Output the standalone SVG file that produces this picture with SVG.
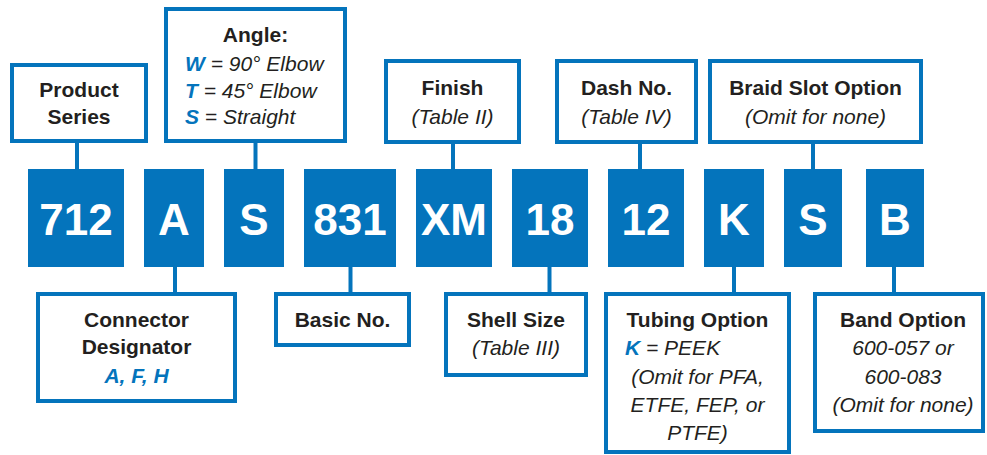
<svg xmlns="http://www.w3.org/2000/svg" width="987" height="455" viewBox="0 0 987 455">
<style>
.box{fill:#fff;stroke:#0474BC;stroke-width:4}
.blk{fill:#0474BC}
.big{font-family:"Liberation Sans",Arial,sans-serif;font-weight:bold;font-size:44px;fill:#fff;text-anchor:middle}
.t{font-family:"Liberation Sans",Arial,sans-serif;font-size:21px;fill:#231F20}
.b{font-weight:bold}
.i{font-style:italic}
.c{text-anchor:middle}
.bl{fill:#0474BC;font-weight:bold;font-style:italic}
.ln{stroke:#0474BC;stroke-width:4;fill:none}
</style>
<rect width="987" height="455" fill="#fff"/>
<g id="connectors">
<line class="ln" x1="77" y1="142" x2="77" y2="170"/>
<line class="ln" x1="255.5" y1="142" x2="255.5" y2="170"/>
<line class="ln" x1="453" y1="142" x2="453" y2="170"/>
<line class="ln" x1="640" y1="142" x2="640" y2="170"/>
<line class="ln" x1="813" y1="142" x2="813" y2="170"/>
<line class="ln" x1="175" y1="266" x2="175" y2="293"/>
<line class="ln" x1="350.5" y1="266" x2="350.5" y2="293"/>
<line class="ln" x1="549.5" y1="266" x2="549.5" y2="293"/>
<line class="ln" x1="734" y1="266" x2="734" y2="293"/>
<line class="ln" x1="894" y1="266" x2="894" y2="293"/>
</g>
<g id="product-series">
<rect class="box" x="12" y="65" width="134" height="76"/>
<text class="t b c" x="79" y="97">Product</text>
<text class="t b c" x="79" y="123.5">Series</text>
</g>
<g id="angle">
<rect class="box" x="166" y="9" width="179" height="132"/>
<text class="t b c" x="255.5" y="41.5">Angle:</text>
<text class="t i" x="185" y="71"><tspan class="bl">W</tspan> = 90° Elbow</text>
<text class="t i" x="185" y="97.5"><tspan class="bl">T</tspan> = 45° Elbow</text>
<text class="t i" x="185" y="123.5"><tspan class="bl">S</tspan> = Straight</text>
</g>
<g id="finish">
<rect class="box" x="386" y="61" width="133" height="81"/>
<text class="t b c" x="452.5" y="95">Finish</text>
<text class="t i c" x="452.5" y="124">(Table II)</text>
</g>
<g id="dash-no">
<rect class="box" x="557" y="61" width="139" height="81"/>
<text class="t b c" x="626.5" y="95">Dash No.</text>
<text class="t i c" x="626.5" y="124">(Table IV)</text>
</g>
<g id="braid-slot">
<rect class="box" x="710" y="61" width="211" height="81"/>
<text class="t b c" x="815.5" y="95">Braid Slot Option</text>
<text class="t i c" x="815.5" y="124">(Omit for none)</text>
</g>
<g id="code-712"><rect class="blk" x="28" y="169" width="96" height="98"/><text class="big" x="76" y="235">712</text></g>
<g id="code-A"><rect class="blk" x="144" y="169" width="60" height="98"/><text class="big" x="174" y="235">A</text></g>
<g id="code-S1"><rect class="blk" x="224" y="169" width="60" height="98"/><text class="big" x="254" y="235">S</text></g>
<g id="code-831"><rect class="blk" x="304" y="169" width="92" height="98"/><text class="big" x="350" y="235">831</text></g>
<g id="code-XM"><rect class="blk" x="416" y="169" width="76" height="98"/><text class="big" x="454" y="235">XM</text></g>
<g id="code-18"><rect class="blk" x="512" y="169" width="76" height="98"/><text class="big" x="550" y="235">18</text></g>
<g id="code-12"><rect class="blk" x="608" y="169" width="76" height="98"/><text class="big" x="646" y="235">12</text></g>
<g id="code-K"><rect class="blk" x="704" y="169" width="60" height="98"/><text class="big" x="734" y="235">K</text></g>
<g id="code-S2"><rect class="blk" x="784" y="169" width="58" height="98"/><text class="big" x="813" y="235">S</text></g>
<g id="code-B"><rect class="blk" x="866" y="169" width="58" height="98"/><text class="big" x="895" y="235">B</text></g>
<g id="connector-designator">
<rect class="box" x="38" y="294" width="197" height="107"/>
<text class="t b c" x="136.5" y="327">Connector</text>
<text class="t b c" x="136.5" y="354">Designator</text>
<text class="t bl c" x="136.5" y="383">A, F, H</text>
</g>
<g id="basic-no">
<rect class="box" x="276" y="294" width="133" height="51"/>
<text class="t b c" x="342.5" y="327">Basic No.</text>
</g>
<g id="shell-size">
<rect class="box" x="446" y="294" width="140" height="81"/>
<text class="t b c" x="516" y="327">Shell Size</text>
<text class="t i c" x="516" y="355">(Table III)</text>
</g>
<g id="tubing-option">
<rect class="box" x="606" y="294" width="183" height="158"/>
<text class="t b c" x="697.5" y="327">Tubing Option</text>
<text class="t i" x="625" y="355"><tspan class="bl">K</tspan> = PEEK</text>
<text class="t i c" x="697.5" y="383.5">(Omit for PFA,</text>
<text class="t i c" x="697.5" y="412">ETFE, FEP, or</text>
<text class="t i c" x="697.5" y="440">PTFE)</text>
</g>
<g id="band-option">
<rect class="box" x="815" y="294" width="168" height="137"/>
<text class="t b c" x="903" y="327">Band Option</text>
<text class="t i c" x="903" y="355">600-057 or</text>
<text class="t i c" x="903" y="383.5">600-083</text>
<text class="t i c" x="903" y="412">(Omit for none)</text>
</g>
</svg>
